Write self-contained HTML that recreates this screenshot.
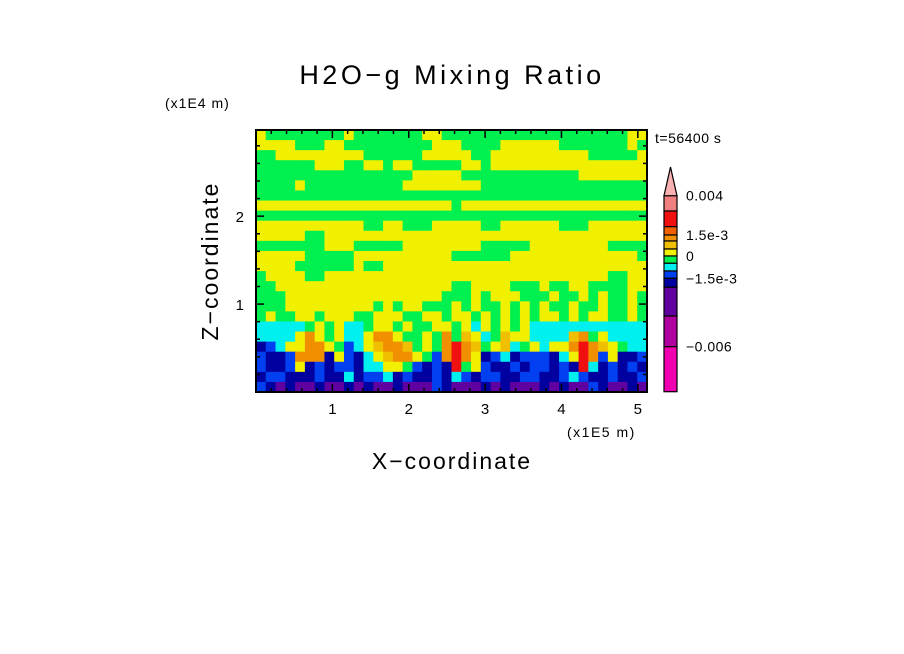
<!DOCTYPE html>
<html><head><meta charset="utf-8"><style>
html,body{margin:0;padding:0;background:#fff;}
svg{display:block;font-family:"Liberation Sans",sans-serif;}
</style></head><body>
<svg id="chart" width="904" height="654" viewBox="0 0 904 654">
<text x="452" y="84" font-size="27" text-anchor="middle" letter-spacing="3.5">H2O−g Mixing Ratio</text>
<text x="165" y="108" font-size="14" letter-spacing="1">(x1E4 m)</text>
<text x="0" y="0" font-size="23" text-anchor="middle" letter-spacing="2" transform="translate(218,261) rotate(-90)">Z−coordinate</text>
<text x="452" y="469" font-size="23" text-anchor="middle" letter-spacing="2">X−coordinate</text>
<text x="567" y="437" font-size="14" letter-spacing="1.5">(x1E5 m)</text>
<text x="655" y="143" font-size="14" letter-spacing="0.5">t=56400 s</text>
<g id="field"></g>
<g id="axes"></g>
<g id="cbar"></g>
</svg>
<script>
const xTicks=[1,2,3,4,5];
const zTicks=[1,2];
const xDomain=[0,5.12];
const zDomain=[0,2.98];
const legendLabels=["0.004","1.5e-3","0","−1.5e-3","−0.006"];
const legendLabelIdx=[0,3,6,9,12];
const legendColors=["#f08080","#f01010","#f06000","#f09000","#f0c000","#f0f000","#00f050","#00f0f0","#0040f0","#0000a0","#6000a0","#b000a0","#f000b0"];
const legendBounds=[195.7,211,226.7,235,241,249,256,263.3,271,278.3,287.3,316,346.7,391.7];
const palette={Y:"#f0f000",G:"#00f050",C:"#00f0f0",B:"#0040f0",N:"#0000a0",P:"#6000a0",O:"#f09000",A:"#f0c000",R:"#f01010"};
const fieldRows=[
"YGGGGGGGGYGGGGGGGYYGGGGGGGGGGGGGGGGGGGYY",
"YYYYGGGYYGGGGGGGGGYYYGGGGYYYYYYGGGGGGGYG",
"GGYYYYYYYYYGGGGGGYYYYYGGYYYYYYYYYYGGGGGY",
"GGGGGGYYYGGYYGYYGGGGGYYGYYYYYYYYYYYYYYYY",
"GGGGGGGGGGGGGGGGYYYYYGGGGGGGGGGGGYYYYYYY",
"GGGGYGGGGGGGGGGYYYYYYYYGGGGGGGGGGGGGGGGG",
"GGGGGGGGGGGGGGGGGGGGGGGGGGGGGGGGGGGGGGGG",
"YYYYYYYYYYYYYYYYYYYYGYYYYYYYYYYYYYYYYYYY",
"GGGGGGGGGGGGGGGGGGGGGGGGGGGGGGGGGGGGGGGG",
"YYYYYYYYYYYGGYYGGGYYYYYGGYYYYYYGGGYYYYYY",
"YYYYYGGYYYYYYYYYYYYYYYYYYYYYYYYYYYYYYYYY",
"GGGGGGGYYYGGGGGYYYYYYYYGGGGGYYYYYYYYGGGG",
"YYYYYGGGGGYYYYYYYYYYGGGGGGYYYYYYYYYYYYYG",
"YYYYGGGGGGYGGYYYYYYYYYYYYYYYYYYYYYYYYYYY",
"GYYYYGGYYYYYYYYYYYYYYYYYYYYYYYYYYYYYGGYY",
"GGYYYYYYYYYYYYYYYYYYGGYYYYGGGYGGYYGGGGYY",
"GGGYYYYYYYYYYYYYYYYGGGYGYYYGGGYGGYGYGGYG",
"GGGYYYYYYYYYGYGYYGGGYGYGGYGYGYGGYGGYGGYG",
"GYGGYYGYYYGGYYYGGYYGYYGYGYGYGYYGYGYYGGYG",
"CCCCCGYGYCCGYYGYGGYYGYCYGYGYCCCCCCCCCCCC",
"CCCCYOYGYCCYOOYGGYGOGAYCGAYYCCCCAOGYCCCC",
"NBCYYOOYGBCYAOOAGYGOROAGYACGYCYYOROAYGCC",
"BNNBOOONYBNCYAOOYGBOROYNBCNBBBNCYROBYNNB",
"BNNBYNBNBBNCCYYGBNBNRGYBNNBNBBNBNRCNBNBN",
"NBBNNNBNNCNBBCNBNNBNCBNBBNNBBNNBCBNNBNNB",
"BNPNPPNPPNPNPPNPPPBNPPPNPNPPPNPNPPBNPPNP"
];
const NS="http://www.w3.org/2000/svg";
const L=256,R=647,T=130,B=392;
function sx(v){return L+(v-xDomain[0])/(xDomain[1]-xDomain[0])*(R-L);}
function sz(v){return B-(v-zDomain[0])/(zDomain[1]-zDomain[0])*(B-T);}
function mk(tag,attrs,parent){const e=document.createElementNS(NS,tag);for(const k in attrs)e.setAttribute(k,attrs[k]);parent.appendChild(e);return e;}
const field=document.getElementById('field');
const nr=fieldRows.length,nc=fieldRows[0].length;
const cw=(R-L)/nc,rh=(B-T)/nr;
fieldRows.forEach((row,i)=>{
  for(let j=0;j<nc;j++){
    const r=mk('rect',{x:(L+j*cw).toFixed(2),y:(T+i*rh).toFixed(2),width:(cw+0.6).toFixed(2),height:(rh+0.6).toFixed(2),fill:palette[row[j]]},field);
    
    
  }
});
const axes=document.getElementById('axes');
const fr=mk('rect',{x:L,y:T,width:R-L,height:B-T,fill:'none',stroke:'#000','stroke-width':2},axes);


for(let v=0.2;v<xDomain[1];v+=0.2){
  const x=sx(v);const major=Math.abs(v-Math.round(v))<1e-6;const len=major?8:4;
  mk('line',{x1:x,y1:B,x2:x,y2:B-len,stroke:'#000','stroke-width':1.5},axes);
  mk('line',{x1:x,y1:T,x2:x,y2:T+len,stroke:'#000','stroke-width':1.5},axes);
}
for(let v=0.2;v<zDomain[1];v+=0.2){
  const y=sz(v);const major=Math.abs(v-Math.round(v))<1e-6;const len=major?8:4;
  mk('line',{x1:L,y1:y,x2:L+len,y2:y,stroke:'#000','stroke-width':1.5},axes);
  mk('line',{x1:R,y1:y,x2:R-len,y2:y,stroke:'#000','stroke-width':1.5},axes);
}
xTicks.forEach(v=>{
  const t=mk('text',{x:sx(v),y:B+22,'font-size':15,'text-anchor':'middle'},axes);t.textContent=v;
  
  
});
zTicks.forEach(v=>{
  const t=mk('text',{x:L-12,y:sz(v)+6,'font-size':15,'text-anchor':'end'},axes);t.textContent=v;
  
  
});
const cb=document.getElementById('cbar');
const cx0=664,cx1=677;
legendColors.forEach((c,i)=>{
  const r=mk('rect',{x:cx0,y:legendBounds[i],width:cx1-cx0,height:legendBounds[i+1]-legendBounds[i],fill:c,stroke:'#000','stroke-width':1.2},cb);
  
  
});
const tri=mk('polygon',{points:`${cx0},${legendBounds[0]} ${cx1},${legendBounds[0]} ${(cx0+cx1)/2},167`,fill:'#f8b0b0',stroke:'#000','stroke-width':1.2},cb);


legendLabels.forEach((s,k)=>{
  const y=legendBounds[legendLabelIdx[k]];
  const t=mk('text',{x:686,y:y+5,'font-size':14,'letter-spacing':0.5},cb);t.textContent=s;
  
  
});
</script>
</body></html>
